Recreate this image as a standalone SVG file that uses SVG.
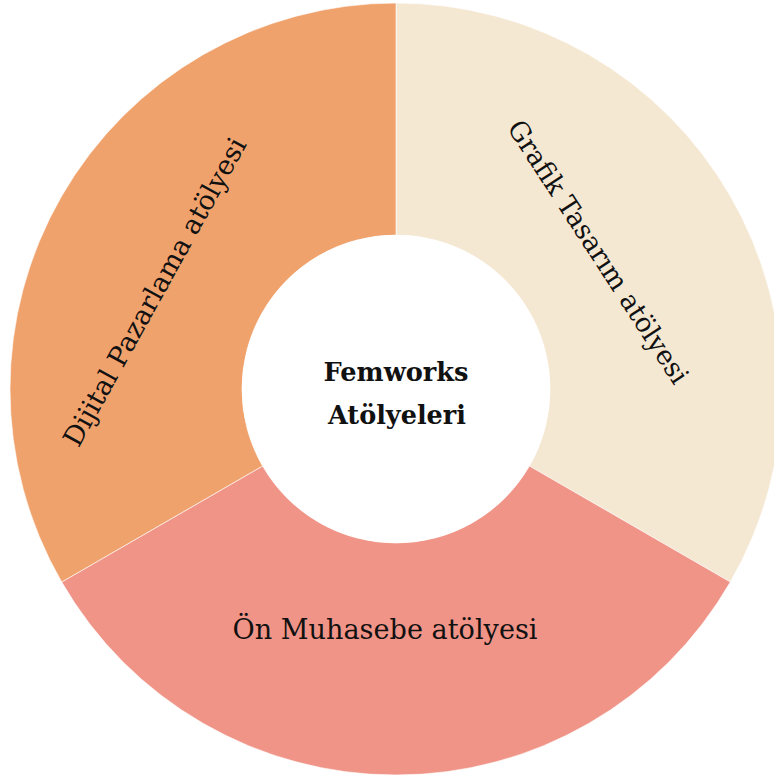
<svg xmlns="http://www.w3.org/2000/svg" width="774" height="778" viewBox="0 0 774 778">
<style>
.seg{stroke:#ffffff;stroke-width:0.6;}
.lbl{font-family:"DejaVu Serif","Liberation Serif",serif;font-size:27px;fill:#111111;text-anchor:middle;}
.ctr{font-family:"DejaVu Serif","Liberation Serif",serif;font-size:26px;font-weight:bold;fill:#111111;text-anchor:middle;}
</style>
<rect width="774" height="778" fill="#ffffff"/>
<g id="grafik">
<path class="seg" fill="#F5E8D3" d="M396,3 A386,386 0 0 1 730.3,582 L529.4,466 A154,154 0 0 0 396,235 Z"/>
<text class="lbl" transform="translate(598,252) rotate(57)" y="9" textLength="308" lengthAdjust="spacingAndGlyphs">Grafik Tasarım atölyesi</text>
</g>
<g id="muhasebe">
<path class="seg" fill="#F09487" d="M730.3,582 A386,386 0 0 1 61.7,582 L262.6,466 A154,154 0 0 0 529.4,466 Z"/>
<text class="lbl" x="385" y="639" textLength="305" lengthAdjust="spacingAndGlyphs">Ön Muhasebe atölyesi</text>
</g>
<g id="dijital">
<path class="seg" fill="#F0A26D" d="M61.7,582 A386,386 0 0 1 396,3 L396,235 A154,154 0 0 0 262.6,466 Z"/>
<text class="lbl" transform="translate(155,292) rotate(-61)" y="9" textLength="348" lengthAdjust="spacingAndGlyphs">Dijital Pazarlama atölyesi</text>
</g>
<g id="center">
<circle cx="396" cy="389" r="154" fill="#ffffff"/>
<text class="ctr" x="396" y="381" textLength="145" lengthAdjust="spacingAndGlyphs">Femworks</text>
<text class="ctr" x="397" y="424" textLength="138" lengthAdjust="spacingAndGlyphs">Atölyeleri</text>
</g>
<g id="connectors"/>
</svg>
